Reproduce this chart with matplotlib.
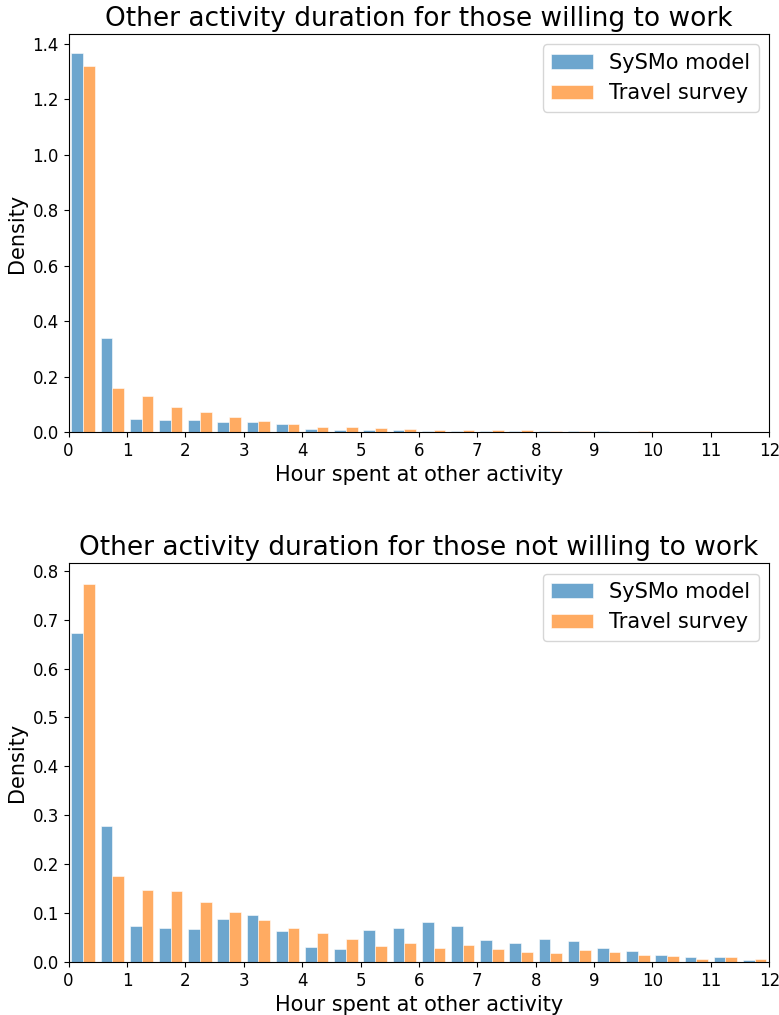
import numpy as np
import matplotlib
matplotlib.use("Agg")
import matplotlib.pyplot as plt

# half-hour bins from 0 to 12 hours
bin_edges = np.arange(0, 12.5, 0.5)
bin_centers = (bin_edges[:-1] + bin_edges[1:]) / 2

series_labels = ["SySMo model", "Travel survey"]

# density per bin, willing to work
willing_model = [1.367, 0.340, 0.046, 0.042, 0.042, 0.037, 0.037, 0.030,
                 0.010, 0.006, 0.006, 0.006, 0.003, 0.003, 0.003, 0.003,
                 0.003, 0.003, 0.003, 0.000, 0.000, 0.000, 0.000, 0.000]
willing_survey = [1.319, 0.159, 0.129, 0.090, 0.072, 0.053, 0.041, 0.029,
                  0.017, 0.017, 0.013, 0.010, 0.006, 0.006, 0.006, 0.007,
                  0.003, 0.003, 0.000, 0.003, 0.000, 0.000, 0.000, 0.000]

# density per bin, not willing to work
notwilling_model = [0.673, 0.278, 0.073, 0.069, 0.067, 0.088, 0.097, 0.063,
                    0.031, 0.026, 0.065, 0.069, 0.082, 0.074, 0.045, 0.039,
                    0.048, 0.043, 0.029, 0.022, 0.014, 0.0095, 0.0095, 0.005]
notwilling_survey = [0.773, 0.176, 0.148, 0.146, 0.122, 0.103, 0.086, 0.069,
                     0.059, 0.048, 0.033, 0.039, 0.029, 0.035, 0.027, 0.020,
                     0.018, 0.024, 0.020, 0.014, 0.012, 0.007, 0.0095, 0.007]

panels = [
    ("Other activity duration for those willing to work",
     willing_model, willing_survey, np.arange(0, 1.41, 0.2), "%.1f"),
    ("Other activity duration for those not willing to work",
     notwilling_model, notwilling_survey, np.arange(0, 0.81, 0.1), "%.1f"),
]

fig = plt.figure(figsize=(7.79, 10.15), dpi=100)
ax_top = fig.add_axes([0.088, 0.5744, 0.8995, 0.3921])
ax_bot = fig.add_axes([0.088, 0.0522, 0.8995, 0.3928])

for ax, (title, model, survey, yticks, fmt) in zip([ax_top, ax_bot], panels):
    ax.hist([bin_centers, bin_centers], bins=bin_edges,
            weights=[model, survey], alpha=0.65,
            color=["tab:blue", "tab:orange"], edgecolor="white",
            linewidth=0.6, label=series_labels)
    ax.set_xlim(0, 12)
    ax.set_xticks(range(0, 13))
    ax.set_yticks(yticks)
    ax.yaxis.set_major_formatter(matplotlib.ticker.FormatStrFormatter(fmt))
    ax.tick_params(labelsize=12)
    ax.set_title(title, fontsize=19)
    ax.set_xlabel("Hour spent at other activity", fontsize=15)
    ax.set_ylabel("Density", fontsize=15)
    ax.legend(loc="upper right", fontsize=15)

ax_top.set_ylim(0, 1.435)
ax_bot.set_ylim(0, 0.815)

fig.savefig("out.png", dpi=100)
